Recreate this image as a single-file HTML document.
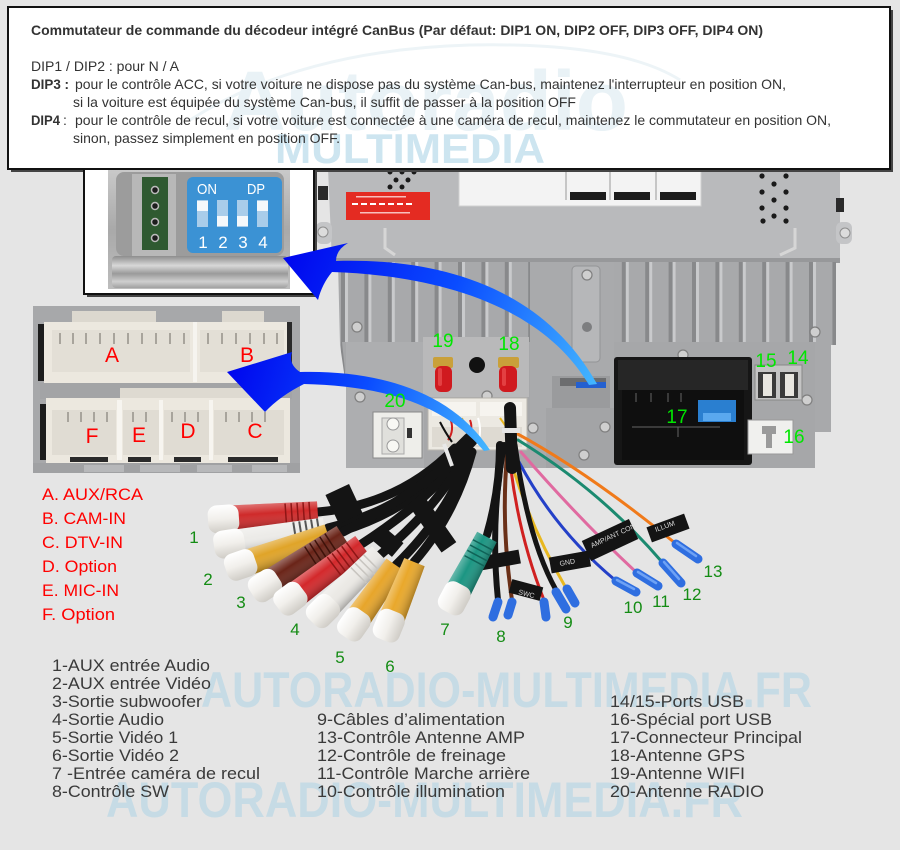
<!DOCTYPE html>
<html><head><meta charset="utf-8">
<style>
html,body{margin:0;padding:0;background:#e5e5e5;}
svg{display:block;}
text{font-family:"Liberation Sans",Arial,sans-serif;}
</style></head><body>
<svg width="900" height="850" viewBox="0 0 900 850" xmlns="http://www.w3.org/2000/svg">
<defs>
 <linearGradient id="ga1" gradientUnits="userSpaceOnUse" x1="283" y1="258" x2="598" y2="386">
  <stop offset="0" stop-color="#0006ee"/><stop offset="0.5" stop-color="#0a4cff"/><stop offset="1" stop-color="#44b8ff"/>
 </linearGradient>
 <linearGradient id="ga2" gradientUnits="userSpaceOnUse" x1="227" y1="372" x2="490" y2="452">
  <stop offset="0" stop-color="#0006ee"/><stop offset="0.5" stop-color="#0a4cff"/><stop offset="1" stop-color="#44b8ff"/>
 </linearGradient>
 <linearGradient id="cap" x1="0" y1="0" x2="0" y2="1">
  <stop offset="0" stop-color="#ffffff"/><stop offset="0.5" stop-color="#f1efeb"/><stop offset="1" stop-color="#cfccc6"/>
 </linearGradient>
 <linearGradient id="shade" x1="0" y1="0" x2="0" y2="1">
  <stop offset="0" stop-color="#fff" stop-opacity="0.35"/><stop offset="0.4" stop-color="#fff" stop-opacity="0"/><stop offset="1" stop-color="#000" stop-opacity="0.3"/>
 </linearGradient>
 <linearGradient id="metal" x1="0" y1="0" x2="0" y2="1">
  <stop offset="0" stop-color="#c9c9c9"/><stop offset="0.5" stop-color="#a9a9a9"/><stop offset="1" stop-color="#bdbdbd"/>
 </linearGradient>
 <linearGradient id="lip" x1="0" y1="0" x2="0" y2="1">
  <stop offset="0" stop-color="#8d8d8d"/><stop offset="0.3" stop-color="#d8d8d8"/><stop offset="0.55" stop-color="#9a9a9a"/><stop offset="0.8" stop-color="#cfcfcf"/><stop offset="1" stop-color="#a0a0a0"/>
 </linearGradient>
 <pattern id="fins" x="341" y="0" width="23.4" height="200" patternUnits="userSpaceOnUse">
  <rect width="23.4" height="200" fill="#a8a9ab"/>
  <rect x="0" width="4" height="200" fill="#88898b"/>
  <rect x="4" width="3" height="200" fill="#c9cacc"/>
 </pattern>
</defs>
<rect width="900" height="850" fill="#e5e5e5"/>

<!-- bottom watermarks -->
<text x="201" y="707" font-size="50" font-weight="bold" fill="#c6dbe5" textLength="611" lengthAdjust="spacingAndGlyphs">AUTORADIO-MULTIMEDIA.FR</text>
<text x="106" y="817" font-size="50" font-weight="bold" fill="#c6dbe5" textLength="637" lengthAdjust="spacingAndGlyphs">AUTORADIO-MULTIMEDIA.FR</text>

<!-- ===== HEAD UNIT ===== -->
<path d="M328,168 L840,168 L840,262 L332,262 Z" fill="#b9babc"/>
<rect x="316" y="222" width="16" height="22" rx="6" fill="#c4c5c7"/>
<circle cx="323" cy="232" r="5" fill="#dcdcdc" stroke="#8e8e8e"/>
<rect x="836" y="222" width="16" height="22" rx="6" fill="#c4c5c7"/>
<circle cx="845" cy="233" r="5" fill="#dcdcdc" stroke="#8e8e8e"/>
<rect x="318" y="186" width="10" height="14" fill="#2a2a2a"/>
<rect x="836" y="198" width="8" height="14" fill="#2a2a2a"/>
<rect x="346" y="192" width="84" height="28" fill="#e42b22"/>
<g fill="#fff"><rect x="352" y="203" width="6" height="2"/><rect x="361" y="203" width="6" height="2"/><rect x="370" y="203" width="6" height="2"/><rect x="379" y="203" width="6" height="2"/><rect x="388" y="203" width="6" height="2"/><rect x="397" y="203" width="6" height="2"/><rect x="406" y="203" width="6" height="2"/><rect x="356" y="196" width="50" height="1.5" opacity=".7"/><rect x="360" y="212" width="50" height="1.5" opacity=".7"/></g>
<rect x="459" y="168" width="242" height="38" fill="#f3f3f3" stroke="#d0d0d0"/>
<g fill="#1c1c1c"><rect x="570" y="192" width="36" height="8"/><rect x="614" y="192" width="36" height="8"/><rect x="660" y="192" width="36" height="8"/></g>
<g stroke="#999" stroke-width="1"><line x1="566" y1="170" x2="566" y2="200"/><line x1="610" y1="170" x2="610" y2="200"/><line x1="656" y1="170" x2="656" y2="200"/></g>
<g fill="#1a1a1a">
<circle cx="390" cy="172" r="2.5"/><circle cx="402" cy="172" r="2.5"/><circle cx="414" cy="172" r="2.5"/><circle cx="396" cy="180" r="2.5"/><circle cx="408" cy="180" r="2.5"/><circle cx="390" cy="187" r="2.5"/><circle cx="402" cy="187" r="2.5"/>
<circle cx="762" cy="176" r="2.6"/><circle cx="786" cy="176" r="2.6"/><circle cx="774" cy="184" r="2.6"/><circle cx="762" cy="192" r="2.6"/><circle cx="786" cy="192" r="2.6"/><circle cx="774" cy="200" r="2.6"/><circle cx="762" cy="208" r="2.6"/><circle cx="786" cy="208" r="2.6"/><circle cx="774" cy="216" r="2.6"/><circle cx="763" cy="221" r="2.6"/><circle cx="786" cy="221" r="2.6"/>
</g>
<path d="M385,228 L385,248 L395,255" fill="none" stroke="#d6d6d6" stroke-width="3"/>
<path d="M795,228 L795,248 L780,255" fill="none" stroke="#d6d6d6" stroke-width="3"/>
<rect x="332" y="258" width="508" height="5" fill="#97989a"/>

<path d="M338,262 L836,262 L836,345 L815,345 L815,468 L352,468 L348,400 L340,345 Z" fill="url(#fins)"/>
<path d="M342,342 L815,342 L815,468 L352,468 L348,400 Z" fill="#a6a7a9"/>
<rect x="346" y="342" width="78" height="126" fill="#adaeb0"/>
<rect x="423" y="337" width="106" height="60" fill="#b9b9ba"/>
<rect x="530" y="262" width="84" height="206" fill="#a9aaac"/>
<rect x="572" y="266" width="28" height="96" rx="4" fill="#b6b7b9" stroke="#939496"/>
<circle cx="587" cy="327" r="5" fill="#7d7e80"/>
<rect x="552" y="376" width="58" height="32" fill="#9a9b9d"/>
<rect x="560" y="378" width="46" height="8" fill="#6c6d6f"/>
<rect x="576" y="382" width="30" height="6" fill="#2460d0"/>
<rect x="546" y="408" width="68" height="60" fill="#a3a4a6"/>
<rect x="815" y="342" width="16" height="90" fill="#a8a9ab"/>
<g fill="#cfcfcf" stroke="#7f7f7f" stroke-width="1.2">
<circle cx="357" cy="327" r="5"/><circle cx="360" cy="397" r="5"/><circle cx="487" cy="396" r="5"/><circle cx="533" cy="428" r="5"/><circle cx="587" cy="275" r="5"/><circle cx="683" cy="355" r="5"/><circle cx="815" cy="332" r="5"/><circle cx="807" cy="400" r="5"/><circle cx="605" cy="427" r="5"/><circle cx="584" cy="455" r="5"/>
</g>
<circle cx="477" cy="365" r="8" fill="#111"/>
<rect x="433" y="357" width="20" height="11" rx="2" fill="#c9a03a"/>
<rect x="435" y="366" width="17" height="26" rx="6" fill="#d01a1f"/>
<rect x="438" y="368" width="4" height="18" rx="2" fill="#f05a5a" opacity=".6"/>
<rect x="498" y="357" width="21" height="11" rx="2" fill="#c9a03a"/>
<rect x="499" y="366" width="18" height="26" rx="6" fill="#d01a1f"/>
<rect x="502" y="368" width="4" height="18" rx="2" fill="#f05a5a" opacity=".6"/>
<rect x="373" y="412" width="49" height="46" fill="#eeeeea" stroke="#888"/>
<rect x="382" y="418" width="22" height="36" fill="#e0e0dc" stroke="#aaa"/>
<circle cx="393" cy="424" r="6" fill="#f8f8f4" stroke="#999"/>
<circle cx="393" cy="446" r="6" fill="#f8f8f4" stroke="#999"/>
<rect x="407" y="428" width="5" height="10" fill="#333"/>
<rect x="428" y="398" width="99" height="52" fill="#ece9e2" stroke="#b8b5ae"/>
<rect x="432" y="402" width="44" height="14" fill="#f6f4ef"/>
<rect x="480" y="402" width="42" height="14" fill="#f6f4ef"/>
<rect x="432" y="427" width="90" height="20" fill="#dedad2"/>
<g stroke-width="2" fill="none">
<path d="M450,418 Q455,430 448,440" stroke="#d02020"/><path d="M462,418 Q466,432 472,440" stroke="#e8b820"/><path d="M470,420 Q474,430 466,440" stroke="#d02020"/><path d="M440,422 Q445,432 452,442" stroke="#111"/><path d="M478,418 Q482,430 478,445" stroke="#fff"/>
<path d="M500,418 Q505,425 512,435" stroke="#e8b820"/><path d="M510,418 L512,432" stroke="#6a3018"/>
</g>
<rect x="614" y="357" width="138" height="108" rx="3" fill="#161616"/>
<rect x="618" y="360" width="130" height="30" fill="#262626"/>
<rect x="622" y="390" width="122" height="70" fill="#0f0f0f"/>
<g stroke="#666" stroke-width="1">
<line x1="636" y1="393" x2="636" y2="402"/><line x1="651" y1="393" x2="651" y2="402"/><line x1="668" y1="393" x2="668" y2="402"/><line x1="681" y1="393" x2="681" y2="402"/>
<line x1="632" y1="427" x2="720" y2="427"/><line x1="678" y1="427" x2="678" y2="437"/>
</g>
<rect x="698" y="400" width="38" height="22" fill="#2a7fd0"/>
<rect x="703" y="413" width="28" height="8" fill="#5aa8ee"/>
<rect x="755" y="365" width="47" height="35" fill="#c4c4c4" stroke="#888"/>
<rect x="758" y="372" width="18" height="26" fill="#3a3a3a"/>
<rect x="763" y="374" width="9" height="22" fill="#e8e6e0"/>
<rect x="780" y="372" width="18" height="26" fill="#3a3a3a"/>
<rect x="785" y="374" width="9" height="22" fill="#e8e6e0"/>
<rect x="748" y="420" width="45" height="34" fill="#f0f0ee" stroke="#999"/>
<rect x="762" y="426" width="14" height="8" fill="#9a9a9a"/>
<rect x="766" y="430" width="6" height="18" fill="#9a9a9a"/>

<!-- ===== TOP TEXT BOX ===== -->
<rect x="11" y="10" width="882" height="162" fill="#444"/>
<rect x="8" y="7" width="882" height="162" fill="#fff" stroke="#111" stroke-width="2"/>
<path d="M190,120 Q300,50 470,45 Q620,42 680,80" fill="none" stroke="#edf4f7" stroke-width="3"/>
<text x="224" y="130" font-size="84" font-weight="bold" fill="#e9f2f6" textLength="404" lengthAdjust="spacingAndGlyphs">Autoradio</text>
<text x="275" y="163" font-size="42" font-weight="bold" fill="#cde5f0" textLength="270" lengthAdjust="spacingAndGlyphs">MULTIMEDIA</text>
<g fill="#333">
<text x="31" y="35" font-size="14" font-weight="bold" textLength="732" lengthAdjust="spacingAndGlyphs">Commutateur de commande du décodeur intégré CanBus (Par défaut: DIP1 ON, DIP2 OFF, DIP3 OFF, DIP4 ON)</text>
<text x="31" y="71" font-size="14" textLength="148" lengthAdjust="spacingAndGlyphs">DIP1 / DIP2 : pour N / A</text>
<text x="31" y="89" font-size="14" font-weight="bold" textLength="38" lengthAdjust="spacingAndGlyphs">DIP3 :</text>
<text x="75" y="89" font-size="14" textLength="711" lengthAdjust="spacingAndGlyphs">pour le contrôle ACC, si votre voiture ne dispose pas du système Can-bus, maintenez l'interrupteur en position ON,</text>
<text x="73" y="107" font-size="14" textLength="503" lengthAdjust="spacingAndGlyphs">si la voiture est équipée du système Can-bus, il suffit de passer à la position OFF</text>
<text x="31" y="125" font-size="14" font-weight="bold" textLength="29" lengthAdjust="spacingAndGlyphs">DIP4</text>
<text x="63" y="125" font-size="14">:</text>
<text x="75" y="125" font-size="14" textLength="756" lengthAdjust="spacingAndGlyphs">pour le contrôle de recul, si votre voiture est connectée à une caméra de recul, maintenez le commutateur en position ON,</text>
<text x="73" y="143" font-size="14" textLength="267" lengthAdjust="spacingAndGlyphs">sinon, passez simplement en position OFF.</text>
</g>

<!-- ===== DIP BOX ===== -->
<rect x="87" y="172" width="230" height="125" fill="#444"/>
<rect x="84" y="169" width="230" height="125" fill="#fff" stroke="#111" stroke-width="2"/>
<rect x="108" y="170" width="182" height="119" fill="url(#metal)"/>
<rect x="116" y="172" width="168" height="84" rx="8" fill="#9c9c9c"/>
<rect x="132" y="174" width="44" height="82" fill="#b8b8b8"/>
<rect x="142" y="177" width="26" height="73" fill="#2f5a31"/>
<g fill="#1d1d1d" stroke="#bbb" stroke-width="1.5">
<circle cx="155" cy="190" r="3.5"/><circle cx="155" cy="206" r="3.5"/><circle cx="155" cy="222" r="3.5"/><circle cx="155" cy="238" r="3.5"/>
</g>
<rect x="187" y="177" width="95" height="76" rx="6" fill="#3b92d4"/>
<text x="197" y="194" font-size="15" fill="#fff" textLength="20" lengthAdjust="spacingAndGlyphs">ON</text>
<text x="247" y="194" font-size="15" fill="#fff" textLength="18" lengthAdjust="spacingAndGlyphs">DP</text>
<g fill="#a9cdea"><rect x="197" y="200" width="11" height="27"/><rect x="217" y="200" width="11" height="27"/><rect x="237" y="200" width="11" height="27"/><rect x="257" y="200" width="11" height="27"/></g>
<g fill="#f4f8fb"><rect x="197" y="201" width="11" height="10"/><rect x="217" y="216" width="11" height="10"/><rect x="237" y="216" width="11" height="10"/><rect x="257" y="201" width="11" height="10"/></g>
<g font-size="17" fill="#fff" text-anchor="middle"><text x="203" y="248">1</text><text x="223" y="248">2</text><text x="243" y="248">3</text><text x="263" y="248">4</text></g>
<rect x="112" y="256" width="176" height="32" rx="4" fill="url(#lip)"/>

<!-- ===== CONNECTOR PHOTO ===== -->
<rect x="33" y="306" width="267" height="167" fill="#a7a8aa"/>
<rect x="72" y="311" width="84" height="12" fill="#dcd8cf"/>
<rect x="222" y="311" width="42" height="12" fill="#dcd8cf"/>
<rect x="38" y="324" width="8" height="57" fill="#1c1c1c"/>
<rect x="44" y="322" width="246" height="61" fill="#ece8df"/>
<rect x="287" y="322" width="5" height="58" fill="#2a2a2a"/>
<rect x="52" y="330" width="138" height="42" fill="#e3dfd6"/>
<rect x="200" y="330" width="84" height="42" fill="#e3dfd6"/>
<rect x="193" y="322" width="4" height="60" fill="#f6f4ef"/>
<g stroke="#a8a49c" stroke-width="2">
<line x1="60" y1="333" x2="60" y2="344"/><line x1="73" y1="333" x2="73" y2="344"/><line x1="86" y1="333" x2="86" y2="344"/><line x1="100" y1="333" x2="100" y2="344"/><line x1="114" y1="333" x2="114" y2="344"/><line x1="128" y1="333" x2="128" y2="344"/><line x1="142" y1="333" x2="142" y2="344"/><line x1="156" y1="333" x2="156" y2="344"/><line x1="170" y1="333" x2="170" y2="344"/><line x1="184" y1="333" x2="184" y2="344"/>
<line x1="208" y1="333" x2="208" y2="344"/><line x1="222" y1="333" x2="222" y2="344"/><line x1="236" y1="333" x2="236" y2="344"/><line x1="250" y1="333" x2="250" y2="344"/><line x1="264" y1="333" x2="264" y2="344"/><line x1="277" y1="333" x2="277" y2="344"/>
</g>
<rect x="40" y="383" width="252" height="16" fill="#a3a4a6"/>
<rect x="120" y="388" width="150" height="10" fill="#dedad1"/>
<rect x="40" y="404" width="8" height="56" fill="#1c1c1c"/>
<rect x="46" y="398" width="244" height="65" fill="#ece8df"/>
<g fill="#e0dcd3"><rect x="52" y="410" width="64" height="45"/><rect x="123" y="410" width="36" height="45"/><rect x="164" y="410" width="45" height="45"/><rect x="214" y="410" width="70" height="45"/></g>
<g fill="#f7f5f0"><rect x="117" y="400" width="5" height="60"/><rect x="159" y="400" width="4" height="60"/><rect x="209" y="400" width="4" height="60"/></g>
<g stroke="#a8a49c" stroke-width="2">
<line x1="68" y1="412" x2="68" y2="422"/><line x1="81" y1="412" x2="81" y2="422"/><line x1="94" y1="412" x2="94" y2="422"/><line x1="107" y1="412" x2="107" y2="422"/>
<line x1="133" y1="412" x2="133" y2="422"/><line x1="146" y1="412" x2="146" y2="422"/>
<line x1="172" y1="412" x2="172" y2="422"/><line x1="185" y1="412" x2="185" y2="422"/><line x1="198" y1="412" x2="198" y2="422"/>
<line x1="226" y1="412" x2="226" y2="422"/><line x1="239" y1="412" x2="239" y2="422"/><line x1="252" y1="412" x2="252" y2="422"/><line x1="265" y1="412" x2="265" y2="422"/>
</g>
<g fill="#2a2a2a"><rect x="70" y="457" width="38" height="5"/><rect x="128" y="457" width="23" height="5"/><rect x="174" y="457" width="27" height="5"/><rect x="228" y="457" width="50" height="5"/></g>
<rect x="33" y="463" width="267" height="10" fill="#a0a1a3"/>
<g fill="#b7b8ba"><rect x="84" y="465" width="40" height="7"/><rect x="140" y="465" width="40" height="7"/><rect x="197" y="465" width="35" height="7"/><rect x="252" y="465" width="35" height="7"/></g>
<g fill="#ff0000" font-size="21" text-anchor="middle">
<text x="112" y="362">A</text><text x="247" y="362">B</text><text x="92" y="443">F</text><text x="139" y="442">E</text><text x="188" y="438">D</text><text x="255" y="438">C</text>
</g>

<!-- ===== CABLES ===== -->
<g fill="none" stroke="#141414" stroke-linecap="round">
<path d="M318,512 Q400,505 455,448" stroke-width="9"/>
<path d="M328,528 Q410,508 458,450" stroke-width="9"/>
<path d="M328,535 Q415,512 460,452" stroke-width="9"/>
<path d="M343,532 Q420,492 462,450" stroke-width="9"/>
<path d="M360,545 Q430,500 465,452" stroke-width="9"/>
<path d="M380,555 Q440,505 468,450" stroke-width="9"/>
<path d="M396,565 Q450,512 470,452" stroke-width="9"/>
<path d="M414,562 Q455,515 472,452" stroke-width="9"/>
<path d="M487,535 Q500,490 500,445" stroke-width="8"/>
<path d="M440,470 Q455,455 470,440" stroke-width="15"/>
</g>
<path d="M444,444 L452,466" stroke="#e8e8e8" stroke-width="4"/>
<g fill="none" stroke-linecap="round">
<path d="M514,432 Q585,470 675,543" stroke="#f07a1a" stroke-width="3"/>
<path d="M518,440 Q600,490 662,562" stroke="#1b8a70" stroke-width="3"/>
<path d="M521,452 Q580,520 636,572" stroke="#e06aa0" stroke-width="3"/>
<path d="M519,462 Q555,530 615,580" stroke="#2440c8" stroke-width="3"/>
<path d="M513,468 Q532,530 566,588" stroke="#e8b820" stroke-width="3"/>
<path d="M511,470 Q520,540 544,600" stroke="#d02020" stroke-width="3"/>
<path d="M508,445 Q500,520 512,600" stroke="#6a3018" stroke-width="4"/>
<path d="M504,445 Q490,520 498,600" stroke="#141414" stroke-width="6"/>
<path d="M515,445 Q528,540 556,590" stroke="#141414" stroke-width="5"/>
<path d="M510,408 L512,468" stroke="#141414" stroke-width="12"/>
</g>
<rect x="502" y="428" width="18" height="5" fill="#e5e5e5"/>

<g fill="#141414">
<rect x="-20" y="-8" width="40" height="16" transform="translate(668,528) rotate(-20)"/>
<rect x="-26" y="-11" width="52" height="22" transform="translate(610,540) rotate(-25)"/>
<rect x="-20" y="-8" width="40" height="16" transform="translate(570,562) rotate(-10)"/>
<rect x="-16" y="-7" width="32" height="14" transform="translate(526,590) rotate(15)"/>
<rect x="-20" y="-7" width="40" height="14" transform="translate(500,560) rotate(-10)"/>
<rect x="-16" y="-13" width="32" height="26" transform="translate(344,504) rotate(65)"/>
<rect x="-26" y="-9" width="52" height="18" transform="translate(434,526) rotate(55)"/>
<rect x="-14" y="-9" width="28" height="18" transform="translate(387,541) rotate(40)"/>
</g>
<g fill="#ddd" font-size="7">
<text transform="translate(656,532) rotate(-20)">ILLUM</text>
<text transform="translate(592,548) rotate(-25)">AMP/ANT CON</text>
<text transform="translate(560,566) rotate(-10)">GND</text>
<text transform="translate(518,594) rotate(15)">SWC</text>
</g>
<g stroke-linecap="round" fill="none">
<g stroke="#2f6ee0" stroke-width="9">
<line x1="676" y1="544" x2="698" y2="559"/><line x1="663" y1="563" x2="681" y2="583"/><line x1="637" y1="573" x2="658" y2="586"/><line x1="616" y1="581" x2="636" y2="592"/>
<line x1="556" y1="592" x2="566" y2="609"/><line x1="567" y1="589" x2="575" y2="603"/><line x1="544" y1="602" x2="546" y2="617"/><line x1="498" y1="602" x2="493" y2="617"/><line x1="512" y1="602" x2="508" y2="615"/>
</g>
<g stroke="#8ab8ff" stroke-width="2.5" opacity=".7">
<line x1="677" y1="543" x2="696" y2="556"/><line x1="664" y1="562" x2="679" y2="579"/><line x1="638" y1="572" x2="656" y2="583"/><line x1="617" y1="580" x2="634" y2="589"/>
</g>
</g>

<!-- ===== RCA PLUGS ===== -->
<g>
<g transform="translate(208,520) rotate(-4)">
 <path d="M24,-13 L110,-11 L110,11 L24,13 Z" fill="#cf2a2a"/><path d="M24,-13 L110,-11 L110,11 L24,13 Z" fill="url(#shade)"/>
 <g stroke="#8e1515" stroke-width="1.5"><line x1="78" y1="-11" x2="78" y2="11"/><line x1="84" y1="-11" x2="84" y2="11"/><line x1="90" y1="-11" x2="90" y2="11"/><line x1="96" y1="-11" x2="96" y2="11"/><line x1="102" y1="-11" x2="102" y2="11"/></g>
 <rect x="0" y="-14" width="31" height="28" rx="9" fill="url(#cap)"/>
</g>
<g transform="translate(214,546) rotate(-9)">
 <path d="M24,-13 L112,-11 L112,11 L24,13 Z" fill="#ecebe8"/><path d="M24,-13 L112,-11 L112,11 L24,13 Z" fill="url(#shade)"/>
 <g stroke="#555" stroke-width="2"><line x1="82" y1="-11" x2="82" y2="11"/><line x1="88" y1="-11" x2="88" y2="11"/><line x1="94" y1="-11" x2="94" y2="11"/><line x1="100" y1="-11" x2="100" y2="11"/><line x1="106" y1="-11" x2="106" y2="11"/></g>
 <rect x="0" y="-14" width="31" height="28" rx="9" fill="url(#cap)"/>
</g>
<g transform="translate(226,570) rotate(-19)">
 <path d="M24,-13 L108,-11 L108,11 L24,13 Z" fill="#e0a428"/><path d="M24,-13 L108,-11 L108,11 L24,13 Z" fill="url(#shade)"/>
 <rect x="0" y="-14" width="31" height="28" rx="9" fill="url(#cap)"/>
</g>
<g transform="translate(252,594) rotate(-33)">
 <path d="M24,-13 L108,-11 L108,11 L24,13 Z" fill="#6a2418"/><path d="M24,-13 L108,-11 L108,11 L24,13 Z" fill="url(#shade)"/>
 <g stroke="#3e120a" stroke-width="1.5"><line x1="70" y1="-11" x2="70" y2="11"/><line x1="76" y1="-11" x2="76" y2="11"/><line x1="82" y1="-11" x2="82" y2="11"/><line x1="88" y1="-11" x2="88" y2="11"/><line x1="94" y1="-11" x2="94" y2="11"/></g>
 <rect x="0" y="-14" width="31" height="28" rx="9" fill="url(#cap)"/>
</g>
<g transform="translate(278,608) rotate(-37)">
 <path d="M24,-13 L105,-11 L105,11 L24,13 Z" fill="#d3282b"/><path d="M24,-13 L105,-11 L105,11 L24,13 Z" fill="url(#shade)"/>
 <g stroke="#8e1515" stroke-width="1.5"><line x1="70" y1="-11" x2="70" y2="11"/><line x1="76" y1="-11" x2="76" y2="11"/><line x1="82" y1="-11" x2="82" y2="11"/><line x1="88" y1="-11" x2="88" y2="11"/><line x1="94" y1="-11" x2="94" y2="11"/></g>
 <rect x="0" y="-14" width="31" height="28" rx="9" fill="url(#cap)"/>
</g>
<g transform="translate(312,622) rotate(-45)">
 <path d="M24,-13 L96,-11 L96,11 L24,13 Z" fill="#ebe9e5"/><path d="M24,-13 L96,-11 L96,11 L24,13 Z" fill="url(#shade)"/>
 <g stroke="#c8c5c0" stroke-width="1.5"><line x1="66" y1="-11" x2="66" y2="11"/><line x1="72" y1="-11" x2="72" y2="11"/><line x1="78" y1="-11" x2="78" y2="11"/><line x1="84" y1="-11" x2="84" y2="11"/></g>
 <rect x="0" y="-14" width="31" height="28" rx="9" fill="url(#cap)"/>
</g>
<g transform="translate(345,637) rotate(-55)">
 <path d="M24,-13 L88,-11 L88,11 L24,13 Z" fill="#e7a52a"/><path d="M24,-13 L88,-11 L88,11 L24,13 Z" fill="url(#shade)"/>
 <rect x="0" y="-14" width="31" height="28" rx="9" fill="url(#cap)"/>
</g>
<g transform="translate(383,640) rotate(-68)">
 <path d="M24,-13 L84,-11 L84,11 L24,13 Z" fill="#e9a82b"/><path d="M24,-13 L84,-11 L84,11 L24,13 Z" fill="url(#shade)"/>
 <rect x="0" y="-14" width="31" height="28" rx="9" fill="url(#cap)"/>
</g>
<g transform="translate(447,612) rotate(-62)">
 <path d="M24,-13 L85,-11 L85,11 L24,13 Z" fill="#1b9582"/><path d="M24,-13 L85,-11 L85,11 L24,13 Z" fill="url(#shade)"/>
 <g stroke="#0f6357" stroke-width="1.5"><line x1="58" y1="-11" x2="58" y2="11"/><line x1="64" y1="-11" x2="64" y2="11"/><line x1="70" y1="-11" x2="70" y2="11"/><line x1="76" y1="-11" x2="76" y2="11"/></g>
 <rect x="0" y="-14" width="31" height="28" rx="9" fill="url(#cap)"/>
</g>
</g>

<!-- ===== BLUE ARROWS ===== -->
<path d="M283,258 L348,243 Q336,250 336,261 C430,258 540,282 597,384 L589,385 C540,302 430,275 332,272 Q322,284 318,300 Z" fill="url(#ga1)"/>
<path d="M227,372 L292,352 Q288,364 300,372 C380,370 452,392 490,450 L484,451 C442,402 380,386 304,384 Q280,396 265,412 Z" fill="url(#ga2)"/>

<!-- ===== LABELS ===== -->
<g fill="#00e600" font-size="19" text-anchor="middle">
<text x="443" y="347">19</text><text x="509" y="350">18</text><text x="395" y="407">20</text><text x="677" y="423">17</text><text x="766" y="367">15</text><text x="798" y="364">14</text><text x="794" y="443">16</text>
</g>
<g fill="#148c14" font-size="17" text-anchor="middle">
<text x="194" y="543">1</text><text x="208" y="585">2</text><text x="241" y="608">3</text><text x="295" y="635">4</text><text x="340" y="663">5</text><text x="390" y="672">6</text><text x="445" y="635">7</text><text x="501" y="642">8</text><text x="568" y="628">9</text><text x="633" y="613">10</text><text x="661" y="607">11</text><text x="692" y="600">12</text><text x="713" y="577">13</text>
</g>
<g fill="#ff0000" font-size="17">
<text x="42" y="500" textLength="101" lengthAdjust="spacingAndGlyphs">A. AUX/RCA</text>
<text x="42" y="524" textLength="84" lengthAdjust="spacingAndGlyphs">B. CAM-IN</text>
<text x="42" y="548" textLength="81" lengthAdjust="spacingAndGlyphs">C. DTV-IN</text>
<text x="42" y="572" textLength="75" lengthAdjust="spacingAndGlyphs">D. Option</text>
<text x="42" y="596" textLength="77" lengthAdjust="spacingAndGlyphs">E. MIC-IN</text>
<text x="42" y="620" textLength="73" lengthAdjust="spacingAndGlyphs">F. Option</text>
</g>
<g fill="#3a3a3a" font-size="17">
<text x="52" y="671" textLength="158" lengthAdjust="spacingAndGlyphs">1-AUX entrée Audio</text>
<text x="52" y="689" textLength="159" lengthAdjust="spacingAndGlyphs">2-AUX entrée Vidéo</text>
<text x="52" y="707" textLength="150" lengthAdjust="spacingAndGlyphs">3-Sortie subwoofer</text>
<text x="52" y="725" textLength="112" lengthAdjust="spacingAndGlyphs">4-Sortie Audio</text>
<text x="52" y="743" textLength="126" lengthAdjust="spacingAndGlyphs">5-Sortie Vidéo 1</text>
<text x="52" y="761" textLength="127" lengthAdjust="spacingAndGlyphs">6-Sortie Vidéo 2</text>
<text x="52" y="779" textLength="208" lengthAdjust="spacingAndGlyphs">7 -Entrée caméra de recul</text>
<text x="52" y="797" textLength="117" lengthAdjust="spacingAndGlyphs">8-Contrôle SW</text>
<text x="317" y="725" textLength="188" lengthAdjust="spacingAndGlyphs">9-Câbles d’alimentation</text>
<text x="317" y="743" textLength="208" lengthAdjust="spacingAndGlyphs">13-Contrôle Antenne AMP</text>
<text x="317" y="761" textLength="189" lengthAdjust="spacingAndGlyphs">12-Contrôle de freinage</text>
<text x="317" y="779" textLength="213" lengthAdjust="spacingAndGlyphs">11-Contrôle Marche arrière</text>
<text x="317" y="797" textLength="188" lengthAdjust="spacingAndGlyphs">10-Contrôle illumination</text>
<text x="610" y="707" textLength="134" lengthAdjust="spacingAndGlyphs">14/15-Ports USB</text>
<text x="610" y="725" textLength="162" lengthAdjust="spacingAndGlyphs">16-Spécial port USB</text>
<text x="610" y="743" textLength="192" lengthAdjust="spacingAndGlyphs">17-Connecteur Principal</text>
<text x="610" y="761" textLength="135" lengthAdjust="spacingAndGlyphs">18-Antenne GPS</text>
<text x="610" y="779" textLength="135" lengthAdjust="spacingAndGlyphs">19-Antenne WIFI</text>
<text x="610" y="797" textLength="154" lengthAdjust="spacingAndGlyphs">20-Antenne RADIO</text>
</g>
</svg>
</body></html>
